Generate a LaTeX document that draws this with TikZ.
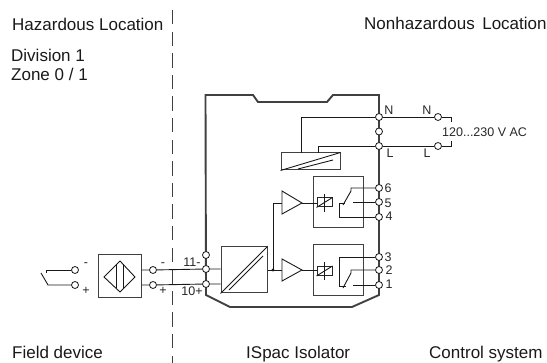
\documentclass[tikz,border=0pt]{standalone}
\usepackage{fontspec}
\setmainfont{Liberation Sans}
\tikzset{
  wire/.style={draw=black!90,line width=0.9pt},
  encl/.style={draw=black!75,line width=1.9pt,line join=miter},
  term/.style={circle,draw=black!90,fill=white,line width=0.8pt,inner sep=0pt,minimum size=7pt},
  bx/.style={draw=black!75,line width=1pt,inner sep=0pt},
  lab/.style={inner sep=0pt,font=\fontsize{17}{19}\selectfont,anchor=base west,text=black!90},
  sm/.style={inner sep=0pt,font=\fontsize{12.5}{14}\selectfont,text=black!85},
}
\begin{document}
\begin{tikzpicture}[x=1pt,y=-1pt]
\useasboundingbox (0,0) rectangle (547,363);
% zone divider
\coordinate (d1) at (172,10); \coordinate (d2) at (172,363);
\draw[draw=black!75,line width=1pt,dash pattern=on 14.5pt off 7.1pt] (d1) -- (d2);
% enclosure
\draw[encl] (205.5,95) -- (253,95) -- (258,102) -- (327,102) -- (333,95) -- (379,95) -- (379,295) -- (352,307) -- (230,307) -- (206,295) -- cycle;
% boxes
\node[bx,minimum width=46pt,minimum height=46pt] (conv) at (244,270) {};
\node[bx,minimum width=59pt,minimum height=17pt] (pwr) at (310.5,161.5) {};
\node[bx,minimum width=43pt,minimum height=43pt] (sens) at (119.5,276.5) {};
\coordinate (relA) at (313,177); \coordinate (relB) at (363,228);
\coordinate (relC) at (313,245); \coordinate (relD) at (363,296);
\draw[bx] (relA |- relB) -- (relA) -- (relA -| relB) -- (relB) -- cycle;
\draw[bx] (relC |- relD) -- (relC) -- (relC -| relD) -- (relD) -- cycle;
% terminals right
\node[term] (tN) at (379,117) {};
\node[term] (tM) at (379,131.5) {};
\node[term] (tL) at (379,146) {};
\node[term] (t6) at (379,188) {};
\node[term] (t5) at (379,202) {};
\node[term] (t4) at (379,217) {};
\node[term] (t3) at (379,257) {};
\node[term] (t2) at (379,270) {};
\node[term] (t1) at (379,285) {};
% terminals left
\node[term] (t0) at (206,255) {};
\node[term] (t11) at (206,269) {};
\node[term] (t10) at (206,284) {};
% supply
\node[term] (sN) at (438,117) {};
\node[term] (sL) at (438,146) {};
\draw[wire] (tN) -- (sN);
\draw[wire] (tL) -- (sL);
\node[sm,anchor=west] (vac) at (442,132) {120...230 V AC};
\draw[wire] (sN) -- (451,117) -- (451,122);
\draw[wire] (sL) -- (451,146) -- (451,141);
\draw[wire] (tN) -- (301,117) -- (301,153);
\draw[wire] (tL) -- (318,146) -- (318,153);
% power box diagonal
\draw[wire] (pwr.south west) -- (pwr.north east);
\draw[wire] (298,169) -- (333,160);
% converter diagonal
\draw[wire] (conv.south west) -- (conv.north east);
\draw[wire] (229,290) -- (263,256);
% amplifiers
\coordinate (a1a) at (282,191); \coordinate (a1b) at (282,214); \coordinate (a1t) at (302,203);
\coordinate (a2a) at (282,259); \coordinate (a2b) at (282,281); \coordinate (a2t) at (302,270);
\draw[wire] (a1a) -- (a1t) -- (a1b) -- cycle;
\draw[wire] (a2a) -- (a2t) -- (a2b) -- cycle;
\coordinate (jn) at (273,270);
\draw[wire] (conv.east |- jn) -- (a2a |- jn);
\fill[black!90] (jn) circle (1.6pt);
\draw[wire] (jn) -- (273,203) -- (282,203);
% coils
\node[bx,draw=black!85,minimum width=15pt,minimum height=9pt] (c1) at (324.5,202.5) {};
\node[bx,draw=black!85,minimum width=15pt,minimum height=9pt] (c2) at (324.5,271) {};
\draw[wire] (a1t) -- (c1.west |- a1t);
\draw[wire] (a2t) -- (c2.west |- a2t);
\draw[wire] (c1.south west) -- (c1.north east);
\draw[wire] (c2.south west) -- (c2.north east);
\draw[wire] (324,194) -- (324,212);
\draw[wire] (324,262) -- (324,280);
% upper relay contacts
\draw[wire] (t6) -- (351,188) -- (351,191) -- (343,205);
\draw[wire] (t5) -- (353,202);
\draw[wire] (t4) -- (339,217) -- (339,203) -- (345,203);
% lower relay contacts
\draw[wire] (t3) -- (339,257) -- (339,286) -- (346,286);
\draw[wire] (t2) -- (351,270) -- (351,273) -- (343,288);
\draw[wire] (t1) -- (353,285);
% sensor
\coordinate (dL) at (104,277); \coordinate (dT) at (120,261); \coordinate (dR) at (135,277); \coordinate (dB) at (120,292);
\draw[wire] (dL) -- (dT) -- (dR) -- (dB) -- cycle;
\draw[wire] (116,265) -- (116,288);
\draw[wire] (123,264) -- (123,289);
\node[term] (s1) at (153,270) {};
\node[term] (s2) at (153,285) {};
\draw[wire] (sens.east |- s1) -- (s1) -- (t11) -- (conv.west |- t11);
\draw[wire] (sens.east |- s2) -- (s2) -- (t10) -- (conv.west |- t10);
% field switch
\node[term] (f1) at (75,270) {};
\node[term] (f2) at (75,285) {};
\draw[wire] (f1) -- (46,270) -- (46,273);
\draw[wire] (f2) -- (48,285) -- (41,273);
% labels
\node[lab] at (12,31) {Hazardous Location};
\node[lab] at (11,62) {Division 1};
\node[lab] at (11,81) {Zone 0 / 1};
\node[lab] at (364,30) {Nonhazardous\, Location};
\node[lab] at (12,358.5) {Field device};
\node[lab] at (246,358.5) {ISpac Isolator};
\node[lab] at (429,358.5) {Control system};
\node[sm] at (389,110) {N};
\node[sm] at (427,110) {N};
\node[sm] at (390,153) {L};
\node[sm] at (427,153) {L};
\node[sm] at (388,188) {6};
\node[sm] at (388,203) {5};
\node[sm] at (389,216) {4};
\node[sm] at (388,257) {3};
\node[sm] at (389,270) {2};
\node[sm] at (389,284) {1};
\node[sm] at (192,262) {11-};
\node[sm] at (192,291) {10+};
\node[sm] at (86,265) {-};
\node[sm] at (86,291) {+};
\node[sm] at (163,265) {-};
\node[sm] at (163,291) {+};
\end{tikzpicture}
\end{document}
